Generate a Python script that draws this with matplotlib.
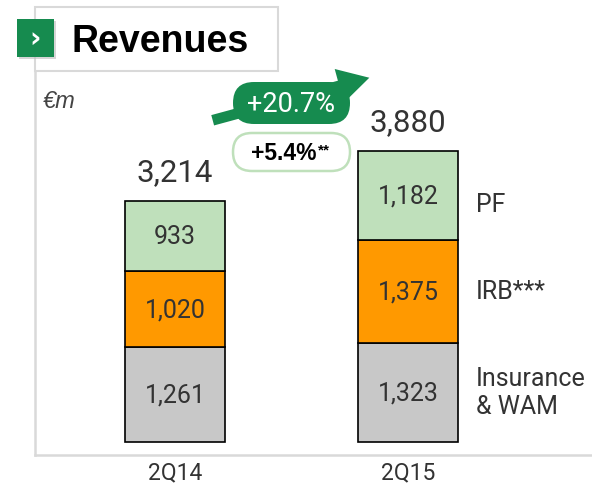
import matplotlib
matplotlib.use("Agg")
import matplotlib.pyplot as plt
from matplotlib.patches import FancyBboxPatch, FancyArrowPatch, Rectangle
import numpy as np

categories = ["2Q14", "2Q15"]
segments = ["Insurance\n& WAM", "IRB***", "PF"]
insurance_wam = [1261, 1323]
irb = [1020, 1375]
pf = [933, 1182]
totals = [3214, 3880]
value_labels = [["1,261", "1,323"], ["1,020", "1,375"], ["933", "1,182"]]
total_labels = ["3,214", "3,880"]
growth_label = "+20.7%"
growth_sub = "+5.4%"
unit_label = "€m"
title = "Revenues"

W, H = 592, 489
DPI = 100
fig = plt.figure(figsize=(W / DPI, H / DPI), dpi=DPI)
fig.patch.set_facecolor("white")

NARROW = ["Roboto", "DejaVu Sans"]
SANS = ["Liberation Sans", "DejaVu Sans"]
TXT = "#333333"
GREEN = "#168B4F"
colors = ["#C8C8C8", "#FF9900", "#BFE0BB"]

# main axes in pixel layout
L, R, B, T = 35, 592, 456, 73
ax = fig.add_axes([L / W, (H - B) / H, (R - L) / W, (B - T) / H])
ax.set_facecolor("none")
px_per_unit = 0.075
ax.set_ylim(-(B - 443) / px_per_unit, (443 - T) / px_per_unit)
step = 233.0
ax.set_xlim((L - 175) / step, (R - 175) / step)

x = np.arange(len(categories))
width = 100 / step
series = [insurance_wam, irb, pf]
bottom = np.zeros(len(categories))
for s, vals in enumerate(series):
    vals = np.array(vals, dtype=float)
    ax.bar(x, vals, width, bottom=bottom, color=colors[s], edgecolor="black",
           linewidth=1.2, zorder=2)
    for i in range(len(categories)):
        ax.text(x[i], bottom[i] + vals[i] / 2, value_labels[s][i], ha="center",
                va="center", fontsize=18, color=TXT, family=NARROW, zorder=3)
    ax.text(x[-1] + 0.29, bottom[-1] + vals[-1] / 2 - (110 if s == 2 else 0),
            segments[s], ha="left", va="center", fontsize=18, color=TXT,
            family=NARROW, linespacing=1.2)
    bottom += vals

for i in range(len(categories)):
    ax.annotate(total_labels[i], (x[i], totals[i]), xytext=(0, 10.5),
                textcoords="offset points", ha="center", va="bottom",
                fontsize=22.5, color=TXT, family=NARROW)

ax.set_xticks(x)
ax.set_xticklabels(categories, fontsize=16.5, color=TXT, family=NARROW)
ax.tick_params(axis="x", length=0, pad=3.5)
ax.set_yticks([])
for sp in ["top", "right"]:
    ax.spines[sp].set_visible(False)
for sp in ["left", "bottom"]:
    ax.spines[sp].set_color("#D9D9D9")
    ax.spines[sp].set_linewidth(1.8)

# overlay in pixel coordinates
ov = fig.add_axes([0, 0, 1, 1], zorder=5)
ov.set_xlim(0, W)
ov.set_ylim(H, 0)
ov.axis("off")
ov.patch.set_alpha(0)

# title box
ov.add_patch(Rectangle((35, 8), 243, 64, facecolor="white", edgecolor="#D9D9D9", lw=1.5))
ov.add_patch(Rectangle((19, 22), 37, 38, facecolor="#BBBBBB", edgecolor="none", alpha=0.6))
ov.add_patch(Rectangle((17, 20), 37, 38, facecolor=GREEN, edgecolor="none"))
ov.text(35.5, 38.5, "›", ha="center", va="center", fontsize=20, color="white",
        fontweight="bold", family=["DejaVu Sans"])
ov.text(72, 42, title, ha="left", va="center", fontsize=27, fontweight="bold",
        color="black", family=SANS)
ov.text(43, 102, unit_label, ha="left", va="center", fontsize=17, style="italic",
        color="#444444", family=SANS)

# growth arrow
arr = FancyArrowPatch((210, 122), (372, 78),
                      arrowstyle="simple,head_length=1.6,head_width=1.8,tail_width=0.55",
                      mutation_scale=14, color=GREEN, lw=0)
ov.add_patch(arr)
ov.add_patch(FancyBboxPatch((233, 83), 117, 42, boxstyle="round,pad=0,rounding_size=21",
                            facecolor=GREEN, edgecolor="none"))
ov.text(291.5, 105, growth_label, ha="center", va="center", fontsize=19.5,
        color="white", family=NARROW)
ov.add_patch(FancyBboxPatch((233, 134), 117, 38, boxstyle="round,pad=0,rounding_size=19",
                            facecolor="white", edgecolor="#BFE0BB", lw=1.8))
ov.text(284, 154, growth_sub, ha="center", va="center", fontsize=16.5, fontweight="bold",
        color="black", family=SANS)
ov.text(318, 150, "**", ha="left", va="center", fontsize=11, fontweight="bold",
        color="black", family=SANS)

fig.savefig("out.png", dpi=DPI, facecolor="white")
